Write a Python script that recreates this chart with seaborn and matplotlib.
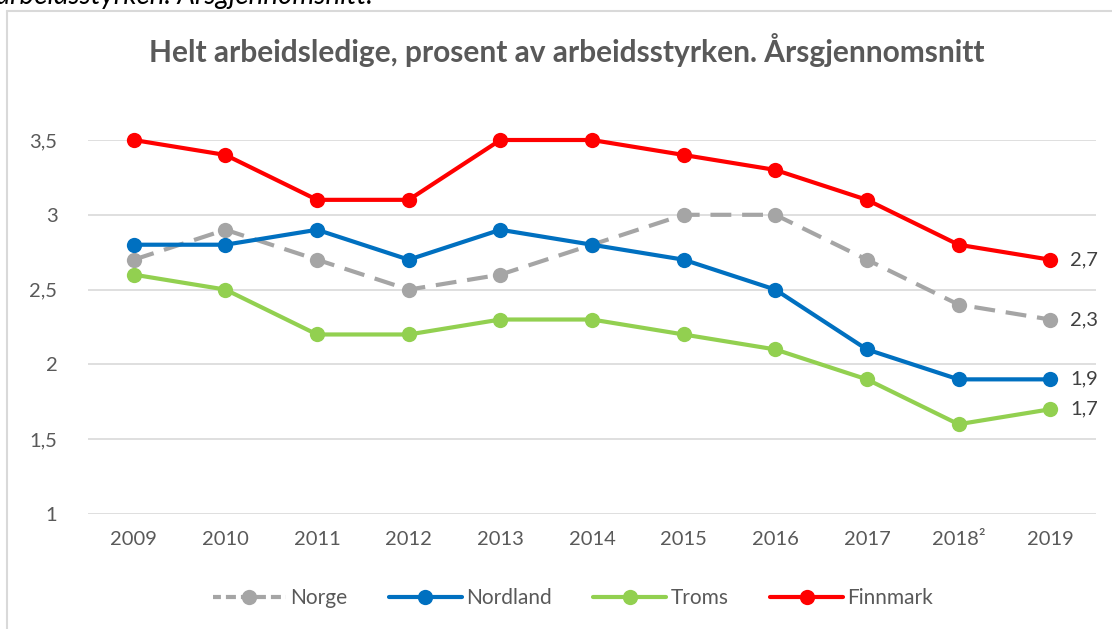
import numpy as np
import pandas as pd
import matplotlib
matplotlib.use('Agg')
import matplotlib.pyplot as plt
import seaborn as sns
from matplotlib.lines import Line2D

# data
years = ['2009', '2010', '2011', '2012', '2013', '2014', '2015', '2016', '2017', '2018²', '2019']
norge = [2.7, 2.9, 2.7, 2.5, 2.6, 2.8, 3.0, 3.0, 2.7, 2.4, 2.3]
nordland = [2.8, 2.8, 2.9, 2.7, 2.9, 2.8, 2.7, 2.5, 2.1, 1.9, 1.9]
troms = [2.6, 2.5, 2.2, 2.2, 2.3, 2.3, 2.2, 2.1, 1.9, 1.6, 1.7]
finnmark = [3.5, 3.4, 3.1, 3.1, 3.5, 3.5, 3.4, 3.3, 3.1, 2.8, 2.7]

series = ['Norge', 'Nordland', 'Troms', 'Finnmark']
colors = ['#A5A5A5', '#0070C0', '#92D050', '#FF0000']

df = pd.DataFrame({'pos': list(range(len(years))) * 4,
                   'region': np.repeat(series, len(years)),
                   'value': norge + nordland + troms + finnmark})

sns.set_theme(style='white')
plt.rcParams['font.family'] = ['Lato', 'DejaVu Sans']
txt = '#595959'

fig = plt.figure(figsize=(11.12, 6.29), dpi=100)
ax = fig.add_axes([88 / 1112, 115 / 629, 1008 / 1112, 374 / 629])

for name, col in zip(series, colors):
    d = df[df['region'] == name]
    ls = (0, (5, 2.6)) if name == 'Norge' else '-'
    sns.lineplot(data=d, x='pos', y='value', ax=ax, color=col, lw=3,
                 linestyle=ls, marker='o', markersize=11, markeredgewidth=0,
                 label=name, legend=False)
    last = d['value'].iloc[-1]
    ax.text(len(years) - 1 + 0.22, last, f'{last:.1f}'.replace('.', ','),
            va='center', ha='left', fontsize=14.5, color='#404040')

ax.set_xlim(-0.5, len(years) - 0.5)
ax.set_ylim(1, 3.5)
ax.set_yticks([1, 1.5, 2, 2.5, 3, 3.5])
ax.set_yticklabels(['1', '1,5', '2', '2,5', '3', '3,5'])
ax.set_xticks(range(len(years)))
ax.set_xticklabels(years)
ax.tick_params(axis='both', labelsize=14.5, colors=txt, length=0)
ax.tick_params(axis='y', pad=22)
ax.tick_params(axis='x', pad=12)
ax.yaxis.grid(True, color='#D9D9D9', lw=1.2)
ax.set_xlabel('')
ax.set_ylabel('')
for s in ax.spines.values():
    s.set_visible(False)
for l in ax.lines:
    l.set_clip_on(False)

fig.text(567 / 1112, 1 - 50 / 629, 'Helt arbeidsledige, prosent av arbeidsstyrken. Årsgjennomsnitt',
         ha='center', va='center', fontsize=21.5, fontweight='bold', color=txt)

# cut-off caption above the chart frame
fig.text(-4 / 1112, 1 - 4 / 629, 'arbeidsstyrken. Årsgjennomsnitt.', ha='left', va='baseline',
         fontsize=20, style='italic', color='black')

# chart frame (only left and top edges visible)
fig.add_artist(Line2D([7 / 1112, 7 / 1112], [0, 1 - 11 / 629], color='#D9D9D9', lw=1.5,
                      transform=fig.transFigure))
fig.add_artist(Line2D([7 / 1112, 1], [1 - 11 / 629, 1 - 11 / 629], color='#D9D9D9', lw=1.5,
                      transform=fig.transFigure))

handles = []
for name, col in zip(series, colors):
    ls = (0.5, (2.4, 1.2)) if name == 'Norge' else '-'
    handles.append(Line2D([], [], color=col, lw=3, linestyle=ls, marker='o',
                          markersize=11, markeredgewidth=0))
fig.legend(handles, series, loc='center', bbox_to_anchor=(573 / 1112, 1 - 598 / 629),
           ncol=4, frameon=False, fontsize=15, labelcolor=txt, handlelength=3.5,
           handletextpad=0.2, columnspacing=2.0)

fig.savefig('out.png', dpi=100)
